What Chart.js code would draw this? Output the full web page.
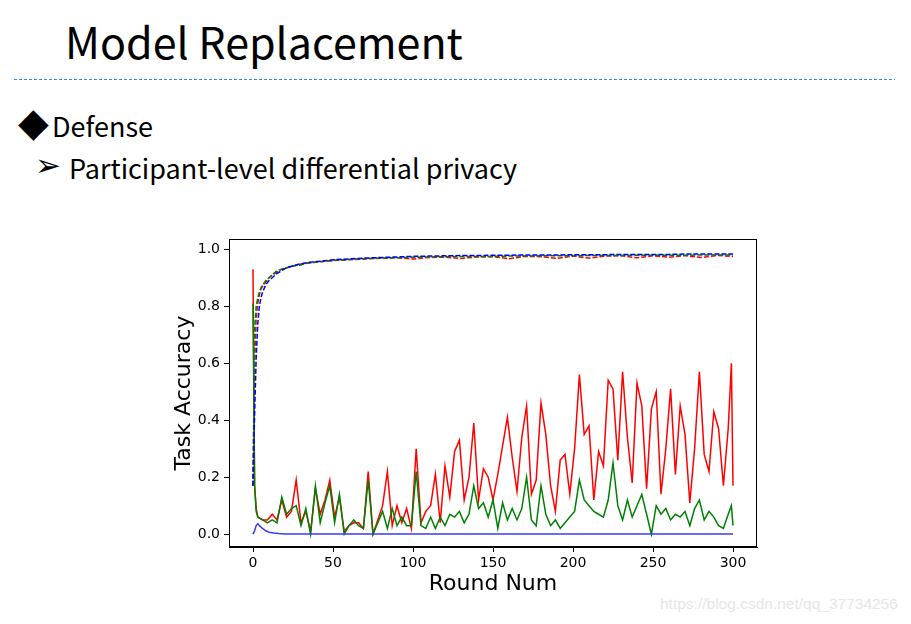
<!DOCTYPE html>
<html>
<head>
<meta charset="utf-8">
<script src="https://cdn.jsdelivr.net/npm/chart.js@4.4.0/dist/chart.umd.min.js"></script>
<style>
  html, body { margin: 0; padding: 0; background: #fff; }
  body { width: 911px; height: 624px; position: relative; overflow: hidden; font-family: "Noto Sans CJK SC", "Noto Sans", sans-serif; }
  .title { position: absolute; left: 65px; top: 9px; font-size: 43px; color: #000; white-space: nowrap; }
  .rule { position: absolute; left: 14px; top: 79px; width: 881px; height: 1px;
          background: repeating-linear-gradient(to right, #2f8fd8 0 3px, transparent 3px 5px); }
  .bullet1 { position: absolute; left: 52px; top: 106px; font-size: 27px; white-space: nowrap; }
  .bullet2 { position: absolute; left: 69px; top: 148px; font-size: 27px; white-space: nowrap; }
  .mark { position: absolute; font-family: "DejaVu Sans", sans-serif; }
  .wm { position: absolute; left: 660px; top: 595px; font-family: "Liberation Sans", Arial, sans-serif; font-size: 15.5px; color: #e6e6e6; white-space: nowrap; }
  #chart { position: absolute; left: 0; top: 0; }
</style>
</head>
<body>
<div class="title">Model Replacement</div>
<div class="rule"></div>
<span class="mark" style="left:18px;top:99px;font-size:40px">◆</span>
<div class="bullet1">Defense</div>
<span class="mark" style="left:35px;top:147px;font-size:31px">➢</span>
<div class="bullet2">Participant-level differential privacy</div>
<div class="wm">https://blog.csdn.net/qq_37734256</div>
<canvas id="chart" width="911" height="624"></canvas>
<script>
// main task accuracy (dashed)
var mainRounds = [0,1,2,3,4,5,6,8,10,12,15,18,21,25,30,35,40,45,50,60,70,80,90,100,110,120,130,140,150,160,170,180,190,200,210,220,230,240,250,260,270,280,290,300];
var mainRed = [0.17,0.60,0.76,0.81,0.84,0.86,0.87,0.885,0.90,0.91,0.92,0.93,0.935,0.94,0.948,0.952,0.955,0.958,0.96,0.963,0.966,0.968,0.97,0.966,0.971,0.972,0.968,0.973,0.974,0.967,0.975,0.974,0.968,0.976,0.969,0.976,0.977,0.970,0.977,0.972,0.978,0.971,0.978,0.975];
var mainGreen = [0.17,0.72,0.80,0.83,0.85,0.865,0.875,0.89,0.90,0.91,0.925,0.93,0.935,0.942,0.945,0.953,0.955,0.958,0.961,0.964,0.967,0.969,0.97,0.972,0.973,0.974,0.975,0.975,0.975,0.976,0.976,0.977,0.977,0.977,0.978,0.978,0.978,0.979,0.979,0.979,0.979,0.98,0.98,0.98];
var mainBlue = [0.17,0.42,0.62,0.74,0.80,0.83,0.85,0.875,0.89,0.90,0.915,0.925,0.935,0.942,0.949,0.954,0.957,0.96,0.963,0.966,0.969,0.971,0.973,0.975,0.976,0.977,0.978,0.978,0.979,0.979,0.98,0.98,0.98,0.981,0.981,0.981,0.982,0.982,0.982,0.982,0.983,0.983,0.983,0.983];

// backdoor accuracy (solid)
var bdRounds = [0,1,2,3,6,9,12,15,18,21,24,27,30,33,36,39,42,45,48,51,54,57,60,63,66,69,72,75,78,81,84,87,90,93,96,99,102,105,108,111,114,117,120,123,126,129,132,135,138,141,144,147,150,153,156,159,162,165,168,171,174,177,180,183,186,189,192,195,198,201,204,207,210,213,216,219,222,225,228,231,234,237,240,243,246,249,252,255,258,261,264,267,270,273,276,279,282,285,288,291,294,297,299,300];
var bdRed = [0.93,0.17,0.09,0.06,0.05,0.05,0.07,0.05,0.12,0.06,0.08,0.19,0.04,0.08,0.01,0.16,0.07,0.12,0.19,0.06,0.13,0.01,0.03,0.04,0.04,0.02,0.22,0.0,0.05,0.10,0.22,0.03,0.10,0.04,0.09,0.02,0.30,0.04,0.08,0.10,0.21,0.04,0.24,0.13,0.29,0.33,0.12,0.20,0.39,0.12,0.23,0.20,0.12,0.21,0.31,0.41,0.27,0.15,0.34,0.45,0.14,0.19,0.46,0.35,0.17,0.08,0.26,0.28,0.14,0.30,0.56,0.35,0.38,0.12,0.29,0.24,0.54,0.51,0.26,0.57,0.34,0.18,0.53,0.45,0.16,0.44,0.50,0.14,0.30,0.51,0.21,0.45,0.35,0.11,0.30,0.57,0.28,0.22,0.43,0.37,0.17,0.37,0.60,0.17];
var bdGreen = [0.81,0.17,0.08,0.06,0.05,0.04,0.05,0.04,0.13,0.07,0.09,0.10,0.03,0.09,0.0,0.17,0.04,0.11,0.17,0.04,0.14,0.0,0.03,0.05,0.03,0.02,0.19,0.0,0.04,0.08,0.02,0.09,0.03,0.06,0.03,0.03,0.22,0.03,0.02,0.06,0.02,0.06,0.03,0.07,0.06,0.08,0.04,0.07,0.17,0.09,0.11,0.06,0.12,0.02,0.11,0.05,0.09,0.05,0.09,0.20,0.05,0.03,0.17,0.07,0.03,0.05,0.02,0.04,0.06,0.08,0.19,0.12,0.10,0.08,0.07,0.06,0.12,0.25,0.10,0.05,0.12,0.06,0.10,0.14,0.07,0.0,0.10,0.07,0.09,0.05,0.07,0.06,0.08,0.03,0.09,0.12,0.05,0.08,0.06,0.03,0.02,0.07,0.10,0.03];
var blueRounds = [0,1,2,3,4,6,8,10,13,16,20,300];
var bdBlue = [0.0,0.012,0.03,0.037,0.03,0.02,0.012,0.007,0.004,0.002,0.001,0.001];

var xTicks = [0,50,100,150,200,250,300];
var yTicks = [0.0,0.2,0.4,0.6,0.8,1.0];

function pts(xs, ys) {
    return xs.map(function (x, i) { return {x: x, y: ys[i]}; });
}

// black box around the plot like matplotlib
var frame = {
    id: 'frame',
    afterDraw: function (chart) {
        var a = chart.chartArea, c = chart.ctx;
        c.save();
        c.strokeStyle = '#000';
        c.lineWidth = 1;
        c.strokeRect(Math.round(a.left) + 0.5, Math.round(a.top) + 0.5, Math.round(a.right - a.left) - 1, Math.round(a.bottom - a.top) - 1);
        c.restore();
    }
};

function line(data, color, dashed, order) {
    return {
        data: data,
        borderColor: color,
        borderWidth: 1.5,
        borderDash: dashed ? [5, 2] : [],
        pointRadius: 0,
        fill: false,
        tension: 0,
        order: order
    };
}

var tickFont = {family: 'DejaVu Sans', size: 14};

new Chart(document.getElementById('chart').getContext('2d'), {
    type: 'line',
    data: {
        datasets: [
            line(pts(bdRounds, bdRed), '#ff0000', false, 6),
            line(pts(bdRounds, bdGreen), '#008000', false, 5),
            line(pts(blueRounds, bdBlue), '#3a3aff', false, 4),
            line(pts(mainRounds, mainRed), '#ff0000', true, 3),
            line(pts(mainRounds, mainGreen), '#008000', true, 2),
            line(pts(mainRounds, mainBlue), '#0000ff', true, 1)
        ]
    },
    options: {
        responsive: false,
        animation: false,
        layout: { padding: {left: 160, top: 239, right: 154, bottom: 27} },
        plugins: { legend: {display: false}, tooltip: {enabled: false} },
        scales: {
            x: {
                type: 'linear', min: -15, max: 315,
                afterBuildTicks: function (s) { s.ticks = xTicks.map(function (v) { return {value: v}; }); },
                afterFit: function (s) { s.height = 50; },
                grid: {display: true, drawOnChartArea: false, drawTicks: true, tickLength: 5, color: '#000'},
                border: {display: true, color: '#000'},
                ticks: {font: tickFont, color: '#000', padding: 3, maxRotation: 0},
                title: {display: true, text: 'Round Num', font: {family: 'DejaVu Sans', size: 22}, color: '#000', padding: {top: 0, bottom: 0}}
            },
            y: {
                type: 'linear', min: -0.045, max: 1.036,
                afterBuildTicks: function (s) { s.ticks = yTicks.map(function (v) { return {value: v}; }); },
                afterFit: function (s) { s.width = 69; },
                grid: {display: true, drawOnChartArea: false, drawTicks: true, tickLength: 5, color: '#000'},
                border: {display: true, color: '#000'},
                ticks: {font: tickFont, color: '#000', padding: 4, callback: function (v) { return v.toFixed(1); }},
                title: {display: true, text: 'Task Accuracy', font: {family: 'DejaVu Sans', size: 22}, color: '#000', padding: {top: 11, bottom: 0}}
            }
        }
    },
    plugins: [frame]
});
</script>
</body>
</html>
